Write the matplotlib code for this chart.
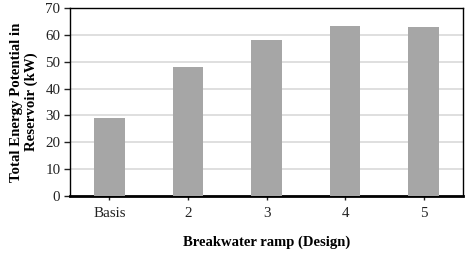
import matplotlib.pyplot as plt
import numpy as np

designs = ["Basis", "2", "3", "4", "5"]
energy_kw = [29.2, 48.0, 58.1, 63.3, 63.0]
y_ticks = [0, 10, 20, 30, 40, 50, 60, 70]

plt.rcParams['font.family'] = ['Liberation Serif', 'DejaVu Serif']

fig = plt.figure(figsize=(4.69, 2.54), dpi=100)
ax = fig.add_axes([70 / 469, 1 - 196 / 254, (463 - 70) / 469, (196 - 8) / 254])

x = np.arange(len(designs))
ax.bar(x, energy_kw, width=0.39, color='#a6a6a6', zorder=3)

ax.set_xlim(-0.5, len(designs) - 0.5)
ax.set_ylim(0, 70)
ax.set_yticks(y_ticks)
ax.set_xticks(x)
ax.set_xticklabels(designs)
ax.yaxis.grid(True, color='#d9d9d9', linewidth=1.2, zorder=0)
ax.set_axisbelow(True)

for s in ['top', 'right', 'left']:
    ax.spines[s].set_linewidth(1.0)
    ax.spines[s].set_color('black')
ax.spines['bottom'].set_linewidth(2.0)

ax.tick_params(axis='y', length=4, width=1, labelsize=10.8, pad=3, colors='#222222')
ax.tick_params(axis='x', length=3, width=1, labelsize=10.8, pad=5, colors='#222222')

ax.set_ylabel("Total Energy Potential in\nReservoir (kW)", fontsize=10.7,
              fontweight='bold', linespacing=1.15, labelpad=5)
ax.set_xlabel("Breakwater ramp (Design)", fontsize=10.5, fontweight='bold', labelpad=11)

fig.savefig('out.png', dpi=100)
